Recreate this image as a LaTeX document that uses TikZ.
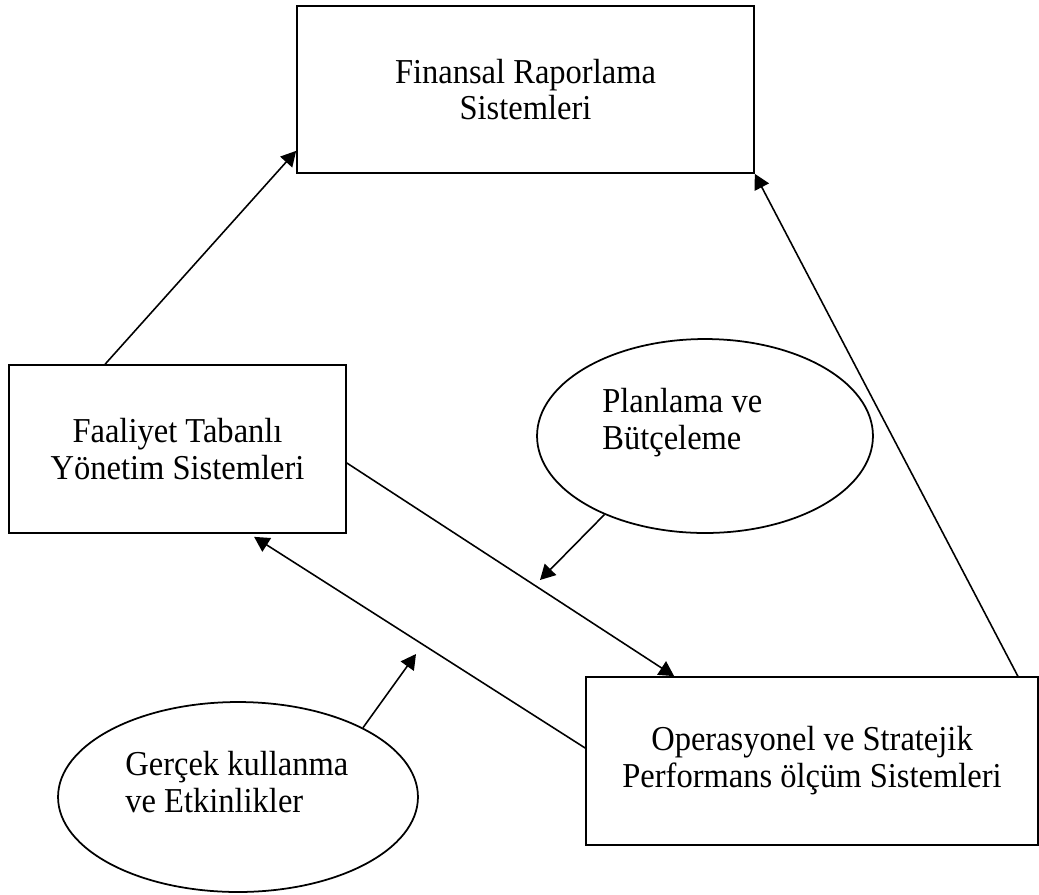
\documentclass[tikz,border=0pt]{standalone}
\usepackage{fontspec}
\setmainfont{Liberation Serif}[FakeStretch=0.93]
\usetikzlibrary{shapes.geometric,arrows.meta}
\begin{document}
\begin{tikzpicture}[x=0.02cm,y=-0.02cm,
  box/.style={draw,line width=1pt,rectangle,inner sep=0pt,align=center,
    font=\fontsize{19.9}{21}\selectfont},
  oval/.style={draw,line width=1pt,ellipse,inner sep=0pt},
  ovaltext/.style={inner sep=0pt,align=left,anchor=west,
    font=\fontsize{19.9}{21}\selectfont},
  link/.style={line width=0.9pt,-{Triangle[length=0.3cm,width=0.32cm]}}]
  \useasboundingbox (0,0) rectangle (1039,894);

  % boxes
  \node[box,minimum width=9.14cm,minimum height=3.34cm] (fin) at (525.5,89.5)
    {Finansal Raporlama\\Sistemleri};
  \node[box,minimum width=6.74cm,minimum height=3.36cm] (fty) at (177.5,449)
    {Faaliyet Tabanlı\\Yönetim Sistemleri};
  \node[box,minimum width=9.04cm,minimum height=3.36cm] (ops) at (812,761)
    {Operasyonel ve Stratejik\\Performans ölçüm Sistemleri};

  % ellipses with their texts
  \node[oval,minimum width=6.72cm,minimum height=3.88cm] (plan) at (705,436) {};
  \node[ovaltext] (plantext) at (602,423) {Planlama ve\\Bütçeleme};
  \node[oval,minimum width=7.2cm,minimum height=3.8cm] (ger) at (238,797) {};
  \node[ovaltext] (gertext) at (125,782) {Gerçek kullanma\\ve Etkinlikler};

  % free arrow ends
  \coordinate (plantip) at (540,580);
  \coordinate (gertip) at (416,654);

  % connectors
  \draw[link] ([xshift=1.94cm]fty.north west) -- ([yshift=0.46cm]fin.south west);
  \draw[link] ([xshift=-0.42cm]ops.north east) -- (fin.south east);
  \draw[link] ([yshift=-0.28cm]fty.east) -- ([xshift=1.78cm]ops.north west);
  \draw[link] ([yshift=0.26cm]ops.west) -- ([xshift=4.92cm,yshift=-0.06cm]fty.south west);
  \draw[link] (plan.218) -- (plantip);
  \draw[link] (ger.29) -- (gertip);
\end{tikzpicture}
\end{document}
